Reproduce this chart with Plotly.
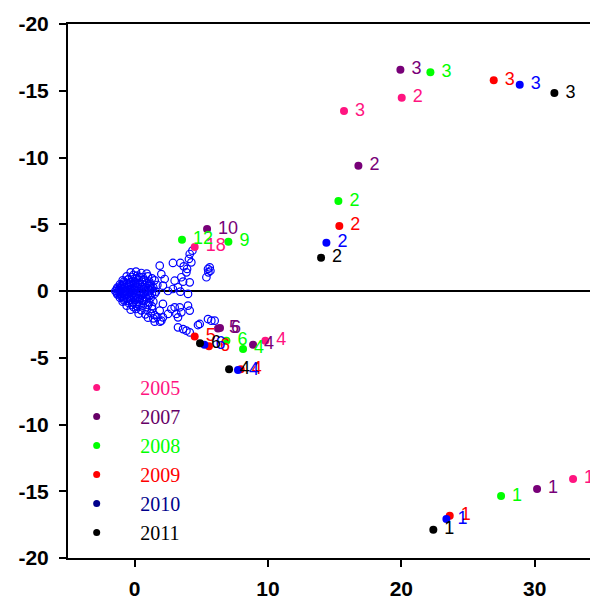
import plotly.graph_objects as go

# ---- data ----
years = ["2005", "2007", "2008", "2009", "2010", "2011"]
point_colors = ["#FF1480", "#780078", "#00FF00", "#FF0000", "#0000FF", "#000000"]
legend_colors = ["#FF1480", "#660066", "#00FF00", "#FF0000", "#00008B", "#000000"]

x_2005 = [32.88, 20.03, 15.70, 9.80, 4.50]
y_2005 = [-14.08, 14.48, 13.48, -3.72, 3.30]
l_2005 = ["1", "2", "3", "4", "18"]

x_2007 = [30.18, 16.78, 19.93, 8.88, 5.43, 6.25, 6.40]
y_2007 = [-14.83, 9.39, 16.58, -4.02, 4.64, -2.80, -2.78]
l_2007 = ["1", "2", "3", "4", "10", "5", "6"]

x_2008 = [27.48, 15.28, 22.18, 8.13, 6.88, 7.03, 3.55]
y_2008 = [-15.36, 6.74, 16.38, -4.34, -3.72, 3.69, 3.84]
l_2008 = ["1", "2", "3", "4", "6", "9", "12"]

x_2009 = [23.63, 15.35, 26.93, 7.95, 4.50, 5.57]
y_2009 = [-16.83, 4.87, 15.78, -5.87, -3.40, -4.14]
l_2009 = ["1", "2", "3", "4", "5", "6"]

x_2010 = [23.38, 14.38, 28.88, 7.75, 5.23]
y_2010 = [-17.08, 3.62, 15.45, -5.92, -4.02]
l_2010 = ["1", "2", "3", "4", "6"]

x_2011 = [22.40, 13.98, 31.48, 7.08, 4.90]
y_2011 = [-17.88, 2.50, 14.83, -5.87, -3.92]
l_2011 = ["1", "2", "3", "4", "6"]

open_pts = [
    (-0.3, 1.4), (0.1, 1.45), (0.5, 1.35), (0.9, 1.3),
    (-0.6, 1.1), (-0.2, 1.05), (0.2, 1.15), (0.6, 1.05), (1.0, 1.1), (1.3, 0.95),
    (-0.9, 0.8), (-0.5, 0.85), (-0.1, 0.75), (0.3, 0.8), (0.7, 0.85), (1.1, 0.7), (1.5, 0.8),
    (-1.1, 0.5), (-0.8, 0.55), (-0.4, 0.45), (0.0, 0.5), (0.4, 0.55), (0.8, 0.45), (1.2, 0.5), (1.7, 0.45),
    (-1.3, 0.25), (-1.0, 0.2), (-0.6, 0.3), (-0.2, 0.2), (0.2, 0.25), (0.6, 0.3), (1.0, 0.2), (1.4, 0.25),
    (-1.45, 0.0), (-1.15, 0.05), (-0.8, -0.05), (-0.4, 0.0), (0.0, 0.05), (0.4, -0.05), (0.8, 0.0), (1.2, 0.05), (1.6, -0.05),
    (-1.3, -0.25), (-1.0, -0.2), (-0.6, -0.3), (-0.2, -0.25), (0.2, -0.2), (0.6, -0.3), (1.0, -0.25), (1.5, -0.2),
    (-1.1, -0.5), (-0.8, -0.55), (-0.4, -0.45), (0.0, -0.5), (0.4, -0.55), (0.8, -0.45), (1.2, -0.5),
    (-0.9, -0.8), (-0.5, -0.75), (-0.1, -0.85), (0.3, -0.8), (0.7, -0.75), (1.1, -0.85), (1.4, -0.8),
    (-0.6, -1.1), (-0.2, -1.05), (0.2, -1.15), (0.6, -1.1), (1.0, -1.05), (1.3, -1.15),
    (-0.3, -1.4), (0.1, -1.35), (0.5, -1.45), (0.9, -1.4), (1.3, -1.35),
    (0.3, -1.7), (0.8, -1.75), (1.2, -1.65), (1.5, -1.8),
    (1.0, -2.0), (1.4, -2.05), (1.7, -1.95), (1.5, -2.3), (1.9, -2.3),
    (-0.7, 0.0), (-0.95, 0.35), (-0.95, -0.35), (-0.35, 0.65), (-0.35, -0.65), (0.15, 0.95), (0.15, -0.95),
    (-1.2, 0.1), (-1.2, -0.1), (-1.05, 0.0), (-0.9, 0.15), (-0.9, -0.15), (-0.75, 0.3), (-0.75, -0.3),
    (-0.55, 0.1), (-0.55, -0.1), (-0.6, 0.55), (-0.6, -0.55), (-0.25, 0.35), (-0.25, -0.35), (-0.1, 0.15),
    (-0.1, -0.15), (0.05, 0.3), (0.05, -0.3), (0.25, 0.55), (0.25, -0.55), (-0.45, 0.9), (-0.45, -0.9),
    (0.45, 0.15), (0.45, -0.15), (0.55, 0.7), (0.55, -0.7), (-0.1, 1.2), (-0.1, -1.2), (0.35, 1.05), (0.35, -1.05),
    (-1.35, 0.12), (-1.35, -0.12), (-1.0, 0.42), (-1.0, -0.42), (-0.8, 0.7), (-0.8, -0.7), (-0.3, 0.1),
    (-0.3, -0.1), (0.1, 0.65), (0.1, -0.65), (0.7, 0.15), (0.7, -0.15), (0.9, 0.6), (0.9, -0.6),
    (1.1, 0.35), (1.1, -0.35), (1.3, 0.15), (1.3, -0.15),
    (1.88, 1.9), (2.87, 2.1), (3.43, 2.1), (3.68, 1.85), (3.93, 1.65), (4.07, 2.4), (4.13, 2.77),
    (4.33, 3.02), (4.25, 2.15), (3.88, 1.4), (3.5, 1.03), (3.63, 0.7), (4.13, 0.65), (4.0, -0.22),
    (3.0, 0.77), (2.87, 0.15), (2.25, 0.9), (2.0, 1.27), (2.12, 0.4), (2.5, 0.0), (3.25, 0.28), (3.43, -0.05),
    (5.5, 1.65), (5.63, 1.77), (5.68, 1.52), (5.38, 1.03), (5.53, 1.4),
    (2.12, -0.97), (1.88, -1.47), (2.12, -1.97), (2.0, -2.22), (2.5, -1.72), (2.75, -1.35), (3.0, -1.22),
    (3.38, -1.22), (3.13, -1.72), (3.5, -1.6), (3.25, -1.97), (4.13, -1.47), (4.0, -1.1), (3.25, -2.72),
    (3.63, -2.85), (3.88, -2.97), (4.13, -3.1), (4.75, -2.55), (5.5, -2.1), (5.75, -2.22), (6.0, -2.22), (4.88, -2.47),
]
open_x = [p[0] for p in open_pts]
open_y = [p[1] for p in open_pts]

y_tickvals = [-20, -15, -10, -5, 0, 5, 10, 15, 20]
y_ticktext = ["-20", "-15", "-10", "-5", "0", "-5", "-10", "-15", "-20"]
x_tickvals = [0, 10, 20, 30]
x_ticktext = ["0", "10", "20", "30"]

series = [
    (x_2005, y_2005, l_2005),
    (x_2007, y_2007, l_2007),
    (x_2008, y_2008, l_2008),
    (x_2009, y_2009, l_2009),
    (x_2010, y_2010, l_2010),
    (x_2011, y_2011, l_2011),
]

fig = go.Figure()

fig.add_trace(go.Scatter(
    x=open_x, y=open_y, mode="markers", showlegend=False, hoverinfo="skip",
    marker=dict(symbol="circle-open", size=7.5, color="#0000FF", line=dict(width=1.2, color="#0000FF")),
))

for (xs, ys, ls), c in zip(series, point_colors):
    fig.add_trace(go.Scatter(
        x=xs, y=ys, mode="markers+text", showlegend=False,
        text=["\u00a0" + t for t in ls], textposition="middle right",
        textfont=dict(family="Liberation Sans, Arial", size=18, color=c),
        marker=dict(size=8, color=c),
    ))

for yr, c in zip(years, legend_colors):
    fig.add_trace(go.Scatter(
        x=[None], y=[None], mode="markers",
        name=f'<span style="color:{c}">{yr}</span>', legendgroup=yr,
        marker=dict(size=7, color=c),
    ))

tick_font = dict(family="Liberation Sans, Arial", size=21, color="black", weight="bold")

fig.update_layout(
    width=590, height=599,
    margin=dict(l=68, r=0, t=24, b=41),
    paper_bgcolor="white", plot_bgcolor="white",
    showlegend=True,
    legend=dict(
        x=-0.0284, y=0.3556, xanchor="left", yanchor="top",
        bgcolor="rgba(0,0,0,0)", borderwidth=0,
        font=dict(family="Liberation Serif, Times New Roman", size=20, color="black"),
        itemwidth=77, tracegroupgap=4, traceorder="normal",
    ),
    xaxis=dict(
        range=[-5, 34.15], showgrid=False, zeroline=False, automargin=False,
        showline=True, linecolor="black", linewidth=2, mirror=True,
        ticks="outside", ticklen=7, tickwidth=2, tickcolor="black",
        tickvals=x_tickvals, ticktext=x_ticktext,
        tickfont=tick_font, ticklabelstandoff=4,
    ),
    yaxis=dict(
        range=[-20, 20], showgrid=False, automargin=False,
        zeroline=True, zerolinecolor="black", zerolinewidth=1.5,
        showline=True, linecolor="black", linewidth=2,
        ticks="outside", ticklen=7, tickwidth=2, tickcolor="black",
        tickvals=y_tickvals, ticktext=y_ticktext,
        tickfont=tick_font, ticklabelstandoff=6,
    ),
)

fig.write_html(
    "out.html",
    config={"displayModeBar": False},
    post_script="document.body.style.margin='0';document.body.style.overflow='hidden';",
)
